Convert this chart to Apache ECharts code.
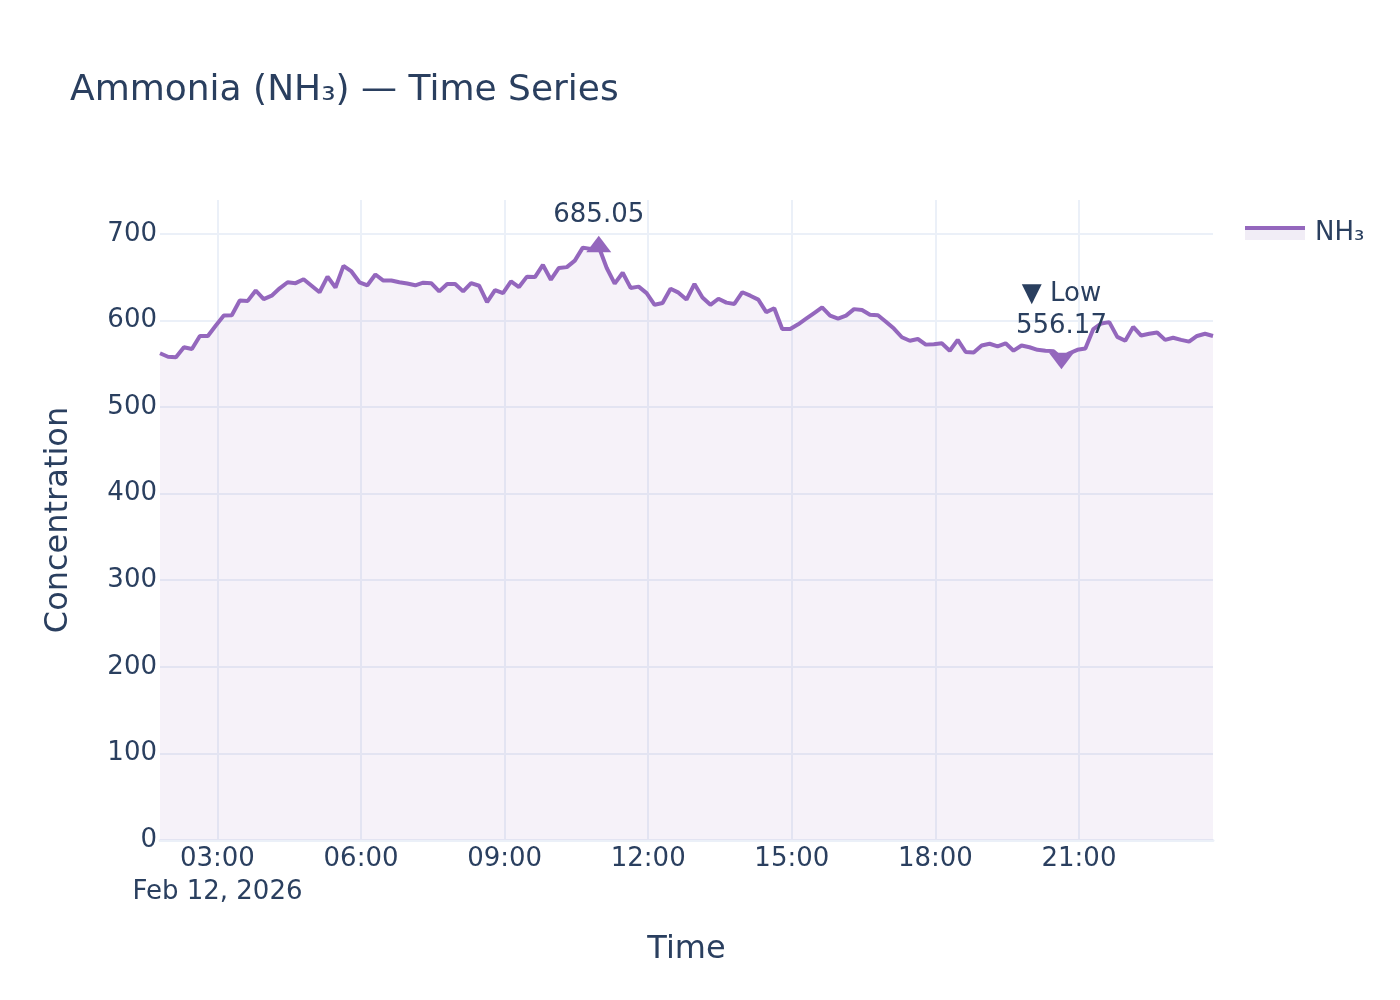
<!DOCTYPE html>
<html>
<head>
<meta charset="utf-8">
<title>Ammonia (NH₃) — Time Series</title>
<script src="https://cdn.jsdelivr.net/npm/echarts@6/dist/echarts.min.js"></script>
<style>
  html, body { margin: 0; padding: 0; background: #fff; }
  #chart { width: 1400px; height: 1000px; }
</style>
</head>
<body>
<div id="chart"></div>
<script>
// readings every 10 minutes, starting 01:48 UTC
const startTime = Date.UTC(2026, 1, 12, 1, 48);
const stepMinutes = 10;

const nh3Values = [
  562, 558, 557.5, 569, 567, 582, 582, 594, 605.5, 606,
  623, 622.5, 634.5, 624.5, 628.5, 637, 644, 643, 647.5, 640,
  632.5, 650.5, 638, 663, 656.5, 644, 640.5, 653, 646, 646,
  644, 642.5, 640.5, 643.5, 643, 633.5, 642, 642, 633.5, 643,
  640, 621, 635, 631.5, 645, 638.5, 650.5, 650, 664, 647,
  660.5, 661.5, 669, 684, 682.5, 685.05, 660.5, 642.5, 655, 637.5,
  639, 631.5, 618, 620, 636.5, 632, 624, 642, 626.5, 618,
  625, 620.5, 619, 632.5, 628.5, 624, 609.5, 614, 590, 590,
  595.5, 602, 608.5, 615, 605.5, 602, 605.5, 613, 612, 606.5,
  606, 598.5, 590.5, 580.5, 576.5, 578.5, 572, 572.5, 573.5, 565,
  577.5, 563.5, 563, 571, 573, 570, 573.5, 565, 571, 569,
  566, 565, 564.5, 556.17, 562, 566, 567.5, 590, 596.5, 598,
  581, 576.5, 592.5, 582.5, 584.5, 586, 577.5, 580, 577.5, 575.5,
  582, 584.5, 582
];

const xTickLabels = ['03:00', '06:00', '09:00', '12:00', '15:00', '18:00', '21:00'];
const xDateLabel = 'Feb 12, 2026';
const yTicks = [0, 100, 200, 300, 400, 500, 600, 700];
const yMax = 739;

const TEXT = '#2a3f5f';
const GRID = '#ebf0f8';
const LINE = '#9467bd';
const FILL = 'rgba(148,103,189,0.12)';
const FONT = 'DejaVu Sans';

const pad = n => String(n).padStart(2, '0');
const timeOf = i => startTime + i * stepMinutes * 60000;
const seriesData = nh3Values.map((v, i) => [timeOf(i), v]);
const xTickValues = xTickLabels.map(t => {
  const [h, m] = t.split(':').map(Number);
  return Date.UTC(2026, 1, 12, h, m);
});

let peakIdx = 0, lowIdx = 0;
nh3Values.forEach((v, i) => {
  if (v > nh3Values[peakIdx]) peakIdx = i;
  if (v < nh3Values[lowIdx]) lowIdx = i;
});

const chart = echarts.init(document.getElementById('chart'));

chart.setOption({
  backgroundColor: '#fff',
  animation: false,
  textStyle: { fontFamily: FONT, color: TEXT },
  title: {
    text: 'Ammonia (NH₃) — Time Series',
    left: 65,
    top: 68,
    textStyle: { fontSize: 36, fontWeight: 'normal', color: TEXT, fontFamily: FONT }
  },
  legend: {
    left: 1240,
    top: 215,
    itemWidth: 60,
    itemHeight: 14,
    textStyle: { fontSize: 26, color: TEXT, fontFamily: FONT, padding: [0, 0, 0, 5] },
    data: [{
      name: 'NH₃',
      icon: 'rect',
      itemStyle: {
        borderWidth: 0,
        color: {
          type: 'linear', x: 0, y: 0, x2: 0, y2: 1,
          colorStops: [
            { offset: 0, color: LINE },
            { offset: 0.25, color: LINE },
            { offset: 0.25, color: 'rgb(241,237,246)' },
            { offset: 1, color: 'rgb(241,237,246)' }
          ]
        }
      }
    }]
  },
  grid: { left: 160, right: 187, top: 200, bottom: 160, containLabel: false },
  xAxis: {
    type: 'value',
    min: timeOf(0),
    max: timeOf(nh3Values.length - 1),
    name: 'Time',
    nameLocation: 'middle',
    nameGap: 94,
    nameTextStyle: { fontSize: 32, color: TEXT, fontFamily: FONT },
    axisLine: { show: true, onZero: false, lineStyle: { color: GRID, width: 3 } },
    axisTick: { show: false, customValues: xTickValues },
    splitLine: { show: true, lineStyle: { color: GRID, width: 2 } },
    axisLabel: {
      customValues: xTickValues,
      fontSize: 26,
      lineHeight: 33,
      margin: 3,
      color: TEXT,
      fontFamily: FONT,
      formatter: (val) => {
        const d = new Date(val);
        const s = pad(d.getUTCHours()) + ':' + pad(d.getUTCMinutes());
        return val === xTickValues[0] ? s + '\n' + xDateLabel : s;
      }
    }
  },
  yAxis: {
    type: 'value',
    min: 0,
    max: yMax,
    name: 'Concentration',
    nameLocation: 'middle',
    nameGap: 85,
    nameTextStyle: { fontSize: 32, color: TEXT, fontFamily: FONT },
    axisLine: { show: false },
    axisTick: { show: false, customValues: yTicks },
    splitLine: { show: true, lineStyle: { color: GRID, width: 2 } },
    axisLabel: {
      customValues: yTicks, fontSize: 26, margin: 3, color: TEXT, fontFamily: FONT,
      padding: [4, 0, 0, 0]
    }
  },
  series: [
    {
      name: 'NH₃',
      type: 'line',
      data: seriesData,
      showSymbol: false,
      symbol: 'none',
      lineStyle: { color: LINE, width: 4 },
      itemStyle: { color: LINE },
      areaStyle: { color: FILL },
      z: 2
    },
    {
      name: 'peak',
      type: 'scatter',
      data: [[timeOf(peakIdx), nh3Values[peakIdx]]],
      symbol: 'triangle',
      symbolSize: [25, 16.5],
      symbolOffset: [0, -2.75],
      itemStyle: { color: LINE, opacity: 1 },
      label: {
        show: true,
        position: 'top',
        distance: 7,
        fontSize: 26,
        color: TEXT,
        fontFamily: FONT,
        formatter: p => p.value[1].toFixed(2)
      },
      z: 3
    },
    {
      name: 'low',
      type: 'scatter',
      data: [[timeOf(lowIdx), nh3Values[lowIdx]]],
      symbol: 'path://M0,0L2,0L1,1.3Z',
      symbolSize: [25, 16.5],
      symbolOffset: [0, 2.75],
      itemStyle: { color: LINE, opacity: 1 },
      label: {
        show: true,
        position: 'top',
        distance: 10,
        fontSize: 26,
        lineHeight: 32.5,
        align: 'center',
        color: TEXT,
        fontFamily: FONT,
        formatter: p => '▼ Low\n' + p.value[1].toFixed(2)
      },
      z: 3
    }
  ]
});
</script>
</body>
</html>
